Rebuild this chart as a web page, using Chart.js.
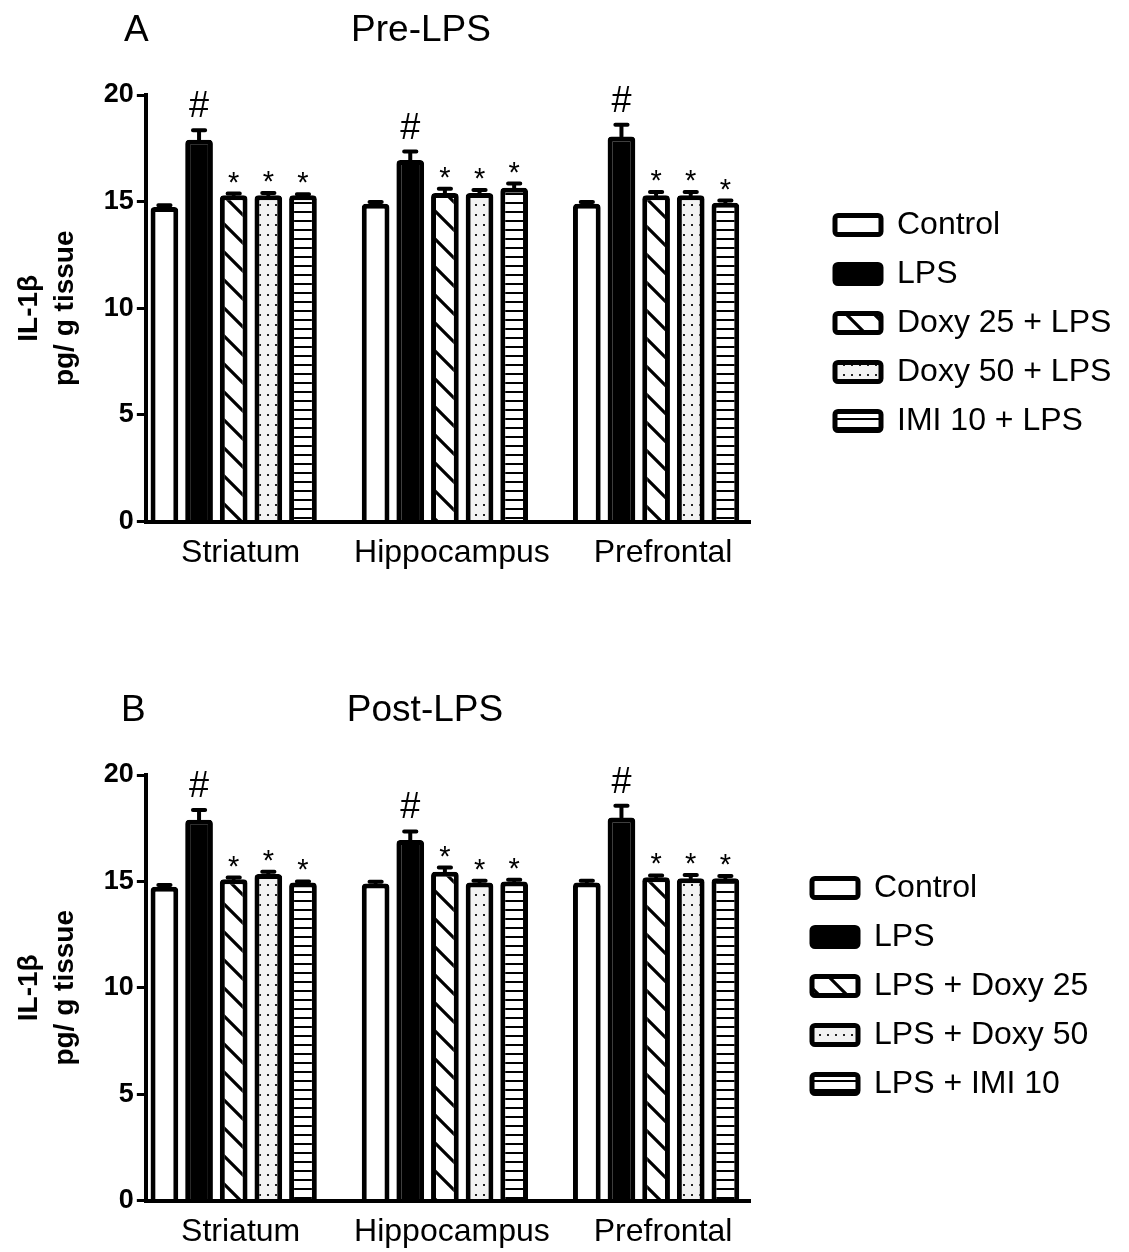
<!DOCTYPE html>
<html>
<head>
<meta charset="utf-8">
<script src="https://cdn.jsdelivr.net/npm/chart.js@4.4.1/dist/chart.umd.min.js"></script>
<style>
  body { margin: 0; background: #fff; overflow: hidden; }
  .panel { position: relative; width: 1129px; }
</style>
</head>
<body>
<div class="panel" style="height:680px"><canvas id="chartPre"></canvas></div>
<div class="panel" style="height:572px"><canvas id="chartPost"></canvas></div>
<script>
// 脑区（x 轴分类）
const regions = ['Striatum', 'Hippocampus', 'Prefrontal'];
const yTicks = [0, 5, 10, 15, 20];

// 图例标签
const preLabels = ['Control', 'LPS', 'Doxy 25 + LPS', 'Doxy 50 + LPS', 'IMI 10 + LPS'];
const postLabels = ['Control', 'LPS', 'LPS + Doxy 25', 'LPS + Doxy 50', 'LPS + IMI 10'];

// 显著性标记（每个组一个）
const sigMarks = ['', '#', '*', '*', '*'];

// A: Pre-LPS 均值
const preControl = [14.75, 14.9, 14.9];
const preLPS = [17.9, 16.95, 18.05];
const preDoxy25 = [15.3, 15.4, 15.3];
const preDoxy50 = [15.3, 15.4, 15.3];
const preIMI10 = [15.3, 15.65, 14.95];
// A: SEM
const preControlErr = [0.08, 0.08, 0.08];
const preLPSErr = [0.45, 0.4, 0.55];
const preDoxy25Err = [0.08, 0.2, 0.15];
const preDoxy50Err = [0.1, 0.15, 0.15];
const preIMI10Err = [0.05, 0.2, 0.1];

// B: Post-LPS 均值
const postControl = [14.75, 14.9, 14.95];
const postLPS = [17.9, 16.95, 18.0];
const postDoxy25 = [15.1, 15.45, 15.2];
const postDoxy50 = [15.35, 14.95, 15.15];
const postIMI10 = [14.95, 15.0, 15.15];
// B: SEM
const postControlErr = [0.08, 0.08, 0.08];
const postLPSErr = [0.45, 0.4, 0.55];
const postDoxy25Err = [0.08, 0.2, 0.08];
const postDoxy50Err = [0.1, 0.08, 0.15];
const postIMI10Err = [0.05, 0.08, 0.1];

const FONT = "'Liberation Sans', Arial, sans-serif";

// 填充图案
function makePattern(kind) {
  const c = document.createElement('canvas');
  const g = c.getContext('2d');
  if (kind === 'hatch') {
    const p = 28;
    c.width = p; c.height = p;
    g.fillStyle = '#fff';
    g.fillRect(0, 0, p, p);
    g.strokeStyle = '#000';
    g.lineWidth = 3.2;
    g.beginPath();
    g.moveTo(-2, -2); g.lineTo(p + 2, p + 2);
    g.moveTo(p - 4, -4); g.lineTo(p + 4, 4);
    g.moveTo(-4, p - 4); g.lineTo(4, p + 4);
    g.stroke();
  } else if (kind === 'dots') {
    c.width = 8; c.height = 10;
    g.fillStyle = '#f2f2f2';
    g.fillRect(0, 0, 8, 10);
    g.fillStyle = '#222';
    g.fillRect(3, 4, 2, 2);
  } else if (kind === 'lines') {
    c.width = 9; c.height = 9;
    g.fillStyle = '#fff';
    g.fillRect(0, 0, 9, 9);
    g.fillStyle = '#000';
    g.fillRect(0, 4, 9, 2);
  }
  return g.createPattern(c, 'repeat');
}

// 误差线（只画上方）
const errorBarPlugin = {
  id: 'errorBars',
  afterDatasetsDraw(chart) {
    const ctx = chart.ctx;
    const yScale = chart.scales.y;
    ctx.save();
    ctx.strokeStyle = '#000';
    ctx.lineWidth = 4;
    ctx.lineCap = 'round';
    chart.data.datasets.forEach((ds, i) => {
      chart.getDatasetMeta(i).data.forEach((bar, j) => {
        const yTop = yScale.getPixelForValue(ds.data[j] + ds.errors[j]);
        const half = bar.width * 0.22;
        ctx.beginPath();
        ctx.moveTo(bar.x, bar.y);
        ctx.lineTo(bar.x, yTop);
        ctx.moveTo(bar.x - half, yTop);
        ctx.lineTo(bar.x + half, yTop);
        ctx.stroke();
      });
    });
    ctx.restore();
  }
};

// 显著性符号
const sigPlugin = {
  id: 'sigMarks',
  afterDatasetsDraw(chart) {
    const ctx = chart.ctx;
    const yScale = chart.scales.y;
    ctx.save();
    ctx.fillStyle = '#000';
    ctx.textAlign = 'center';
    ctx.textBaseline = 'alphabetic';
    chart.data.datasets.forEach((ds, i) => {
      if (!ds.mark) return;
      const isHash = ds.mark === '#';
      ctx.font = (isHash ? 36 : 29) + 'px ' + FONT;
      chart.getDatasetMeta(i).data.forEach((bar, j) => {
        const yTop = yScale.getPixelForValue(ds.data[j] + ds.errors[j]);
        ctx.fillText(ds.mark, bar.x, yTop - (isHash ? 13 : 2));
      });
    });
    ctx.restore();
  }
};

// 面板字母和标题
const panelTitlePlugin = {
  id: 'panelTitle',
  afterDraw(chart, args, opts) {
    const ctx = chart.ctx;
    ctx.save();
    ctx.fillStyle = '#000';
    ctx.textBaseline = 'middle';
    ctx.font = '37px ' + FONT;
    ctx.textAlign = 'left';
    ctx.fillText(opts.letter, opts.letterX, opts.y);
    ctx.textAlign = 'center';
    ctx.fillText(opts.text, opts.textX, opts.y);
    ctx.restore();
  }
};

// 图例位置微调
const legendPlacePlugin = {
  id: 'legendPlace',
  afterLayout(chart, args, opts) {
    const lg = chart.legend;
    if (!lg) return;
    const dy = opts.top - lg.top;
    lg.left = opts.left;
    lg.right = chart.width;
    lg.width = lg.right - lg.left;
    lg.top += dy;
    lg.bottom += dy;
  }
};

function buildDatasets(labels, values, errors) {
  const fills = ['#fff', '#000', makePattern('hatch'), makePattern('dots'), makePattern('lines')];
  return labels.map((label, i) => ({
    label: label,
    data: values[i],
    errors: errors[i],
    mark: sigMarks[i],
    backgroundColor: fills[i],
    borderColor: '#000',
    borderWidth: 5,
    borderRadius: { topLeft: 4, topRight: 4 },
    borderSkipped: 'start',
    categoryPercentage: 0.82,
    barPercentage: 0.8
  }));
}

function createChart(id, labels, values, errors, title, legendPos, padBottom) {
  const ctx = document.getElementById(id).getContext('2d');
  return new Chart(ctx, {
    type: 'bar',
    data: {
      labels: regions.map((r, i) => i),
      datasets: buildDatasets(labels, values, errors)
    },
    plugins: [errorBarPlugin, sigPlugin, panelTitlePlugin, legendPlacePlugin],
    options: {
      responsive: true,
      maintainAspectRatio: false,
      animation: false,
      layout: {
        padding: { top: 95, left: 8, right: 131, bottom: padBottom }
      },
      scales: {
        x: {
          type: 'linear',
          offset: false,
          min: -0.416,
          max: 2.447,
          grid: { display: false, drawTicks: false },
          border: { color: '#000', width: 4 },
          ticks: {
            stepSize: 1,
            includeBounds: false,
            padding: 12,
            labelOffset: 7,
            color: '#000',
            font: { family: FONT, size: 32 },
            callback: v => regions[v] || ''
          }
        },
        y: {
          min: 0,
          max: 20,
          afterBuildTicks: s => { s.ticks = yTicks.map(v => ({ value: v })); },
          grid: { drawOnChartArea: false, drawTicks: true, tickLength: 9, color: '#000', lineWidth: 3 },
          border: { color: '#000', width: 4 },
          ticks: {
            padding: 3,
            color: '#000',
            font: { family: FONT, size: 27, weight: 'bold' }
          },
          title: {
            display: true,
            text: ['IL-1β', 'pg/ g tissue'],
            color: '#000',
            font: { family: FONT, size: 28, weight: 'bold', lineHeight: 1.3 },
            padding: { top: 3, bottom: 17 }
          }
        }
      },
      plugins: {
        legend: {
          position: 'right',
          align: 'start',
          labels: {
            color: '#000',
            boxWidth: 46,
            boxHeight: 19,
            padding: 17,
            useBorderRadius: true,
            borderRadius: 3,
            font: { family: FONT, size: 32 }
          }
        },
        tooltip: { enabled: false },
        panelTitle: title,
        legendPlace: legendPos
      }
    }
  });
}

document.addEventListener('DOMContentLoaded', () => {
  createChart('chartPre', preLabels,
    [preControl, preLPS, preDoxy25, preDoxy50, preIMI10],
    [preControlErr, preLPSErr, preDoxy25Err, preDoxy50Err, preIMI10Err],
    { letter: 'A', letterX: 124, text: 'Pre-LPS', textX: 421, y: 31 },
    { left: 818, top: 192 }, 96);

  createChart('chartPost', postLabels,
    [postControl, postLPS, postDoxy25, postDoxy50, postIMI10],
    [postControlErr, postLPSErr, postDoxy25Err, postDoxy50Err, postIMI10Err],
    { letter: 'B', letterX: 121, text: 'Post-LPS', textX: 425, y: 31 },
    { left: 795, top: 175 }, -11);
});
</script>
</body>
</html>
